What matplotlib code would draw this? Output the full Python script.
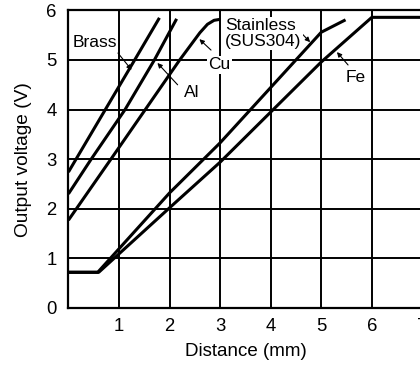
import matplotlib
matplotlib.use("Agg")
import matplotlib.pyplot as plt

plt.rcParams['font.family'] = ['Liberation Sans', 'DejaVu Sans']

# curves (distance mm, output V)
brass_x = [0.0, 0.73, 1.31, 1.8]
brass_y = [2.74, 4.0, 5.0, 5.85]
al_x = [0.0, 0.45, 1.12, 1.7, 2.14]
al_y = [2.3, 3.0, 4.0, 5.0, 5.83]
cu_x = [0.0, 0.84, 2.2, 2.6, 2.75, 2.88, 3.0]
cu_y = [1.77, 3.0, 5.0, 5.55, 5.72, 5.8, 5.82]
sus_x = [0.0, 0.58, 2.0, 3.0, 5.0, 5.48]
sus_y = [0.72, 0.72, 2.32, 3.33, 5.56, 5.81]
fe_x = [0.0, 0.6, 2.0, 3.0, 5.0, 6.0, 7.0]
fe_y = [0.72, 0.72, 2.02, 2.94, 4.96, 5.86, 5.86]

xticks = [1, 2, 3, 4, 5, 6, 7]
yticks = [0, 1, 2, 3, 4, 5, 6]

fig = plt.figure(figsize=(4.2, 3.67), dpi=100)
ax = fig.add_axes([68.4 / 420, 59 / 367, 354 / 420, 297.6 / 367])

for xs, ys in [(brass_x, brass_y), (al_x, al_y), (cu_x, cu_y), (sus_x, sus_y), (fe_x, fe_y)]:
    ax.plot(xs, ys, color='black', lw=2.2, solid_capstyle='butt', zorder=3)

ax.set_xlim(0, 7)
ax.set_ylim(0, 6)
ax.set_xticks(xticks)
ax.set_yticks(yticks)
ax.tick_params(length=0, labelsize=13.3)
ax.tick_params(axis='x', pad=7)
ax.tick_params(axis='y', pad=8.5)
ax.grid(True, color='black', lw=1.4)
for s in ax.spines.values():
    s.set_linewidth(1.6)

ax.set_xlabel('Distance (mm)', fontsize=13.5, labelpad=6)
ax.set_ylabel('Output voltage (V)', fontsize=13.8, labelpad=10)

arrow = dict(arrowstyle='-|>', lw=0.8, color='black', mutation_scale=7, shrinkA=0, shrinkB=0)
box = dict(facecolor='white', edgecolor='none', pad=1)
fs = 12.5

ax.text(0.08, 5.36, 'Brass', fontsize=fs, va='center', ha='left', zorder=5)
ax.annotate('', xy=(1.25, 4.8), xytext=(0.98, 5.14), arrowprops=arrow)
ax.text(2.29, 4.35, 'Al', fontsize=fs, va='center', ha='left', zorder=5)
ax.annotate('', xy=(1.76, 4.94), xytext=(2.16, 4.5), arrowprops=arrow)
ax.text(2.98, 4.9, 'Cu', fontsize=fs, va='center', ha='center', bbox=box, zorder=5)
ax.annotate('', xy=(2.59, 5.42), xytext=(2.82, 5.2), arrowprops=arrow)
ax.text(3.1, 5.54, 'Stainless\n(SUS304)', fontsize=fs, va='center', ha='left',
        linespacing=1.05, bbox=box, zorder=5)
ax.annotate('', xy=(4.78, 5.36), xytext=(4.61, 5.54), arrowprops=arrow)
ax.text(5.49, 4.64, 'Fe', fontsize=fs, va='center', ha='left', zorder=5)
ax.annotate('', xy=(5.31, 5.16), xytext=(5.53, 4.9), arrowprops=arrow)

fig.savefig('out.png', dpi=100)
